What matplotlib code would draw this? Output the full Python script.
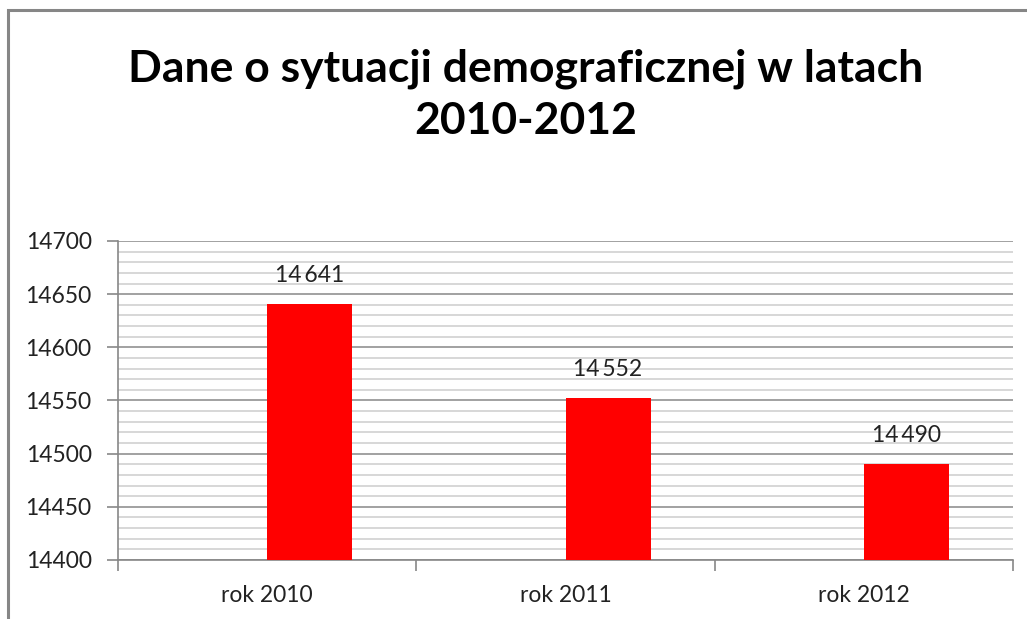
import matplotlib
matplotlib.use("Agg")
import matplotlib.pyplot as plt
from matplotlib.patches import Rectangle
from matplotlib.ticker import MultipleLocator

categories = ["rok 2010", "rok 2011", "rok 2012"]
values = [14641, 14552, 14490]
value_labels = ["14\u2009641", "14\u2009552", "14\u2009490"]
title = "Dane o sytuacji demograficznej w latach\n2010-2012"

W, H = 1027, 619
fig = plt.figure(figsize=(W / 100, H / 100), dpi=100)
plt.rcParams['font.family'] = ['Lato', 'DejaVu Sans']

ax = fig.add_axes([118 / W, 1 - 560 / H, (1013 - 118) / W, (560 - 241) / H])

x = list(range(len(categories)))
centers = [i + 0.5 for i in x]
bw = 0.285
ax.bar(centers, [v - 14400 for v in values], bottom=14400, width=bw, align='edge',
       color='#ff0000', zorder=3)
for c, v, lab in zip(centers, values, value_labels):
    ax.text(c + bw / 2, v + 17, lab, ha='center', va='bottom', fontsize=16.5,
            color='#222222', zorder=4)

ax.set_xlim(0, 3)
ax.set_ylim(14400, 14700)
ax.yaxis.set_major_locator(MultipleLocator(50))
ax.yaxis.set_minor_locator(MultipleLocator(10))
ax.grid(axis='y', which='minor', color='#d4d4d4', lw=1.3, zorder=1)
ax.grid(axis='y', which='major', color='#9a9a9a', lw=1.3, zorder=1)
ax.tick_params(axis='y', which='minor', length=0)
ax.tick_params(axis='y', which='major', length=8, width=1.2, color='#888888',
               labelsize=16.5, labelcolor='#222222', pad=11)

ax.set_xticks([0, 1, 2, 3])
ax.set_xticklabels([])
ax.set_xticks(centers, minor=True)
ax.set_xticklabels(categories, minor=True)
ax.tick_params(axis='x', which='major', length=8, width=1.2, color='#888888')
ax.tick_params(axis='x', which='minor', length=0, labelsize=16.5,
               labelcolor='#222222', pad=18)

for s in ['top', 'right']:
    ax.spines[s].set_visible(False)
for s in ['left', 'bottom']:
    ax.spines[s].set_color('#888888')
    ax.spines[s].set_linewidth(1.2)

fig.text(526 / W, 1 - 95 / H, title, ha='center', va='center', fontsize=32,
         fontweight='bold', color='#000000', linespacing=1.36)

fig.patches.append(Rectangle((8 / W, -0.1), 1.2, (H - 10) / H + 0.1,
                             transform=fig.transFigure, fill=False,
                             edgecolor='#868686', lw=2.2))

fig.savefig("out.png", dpi=100)
